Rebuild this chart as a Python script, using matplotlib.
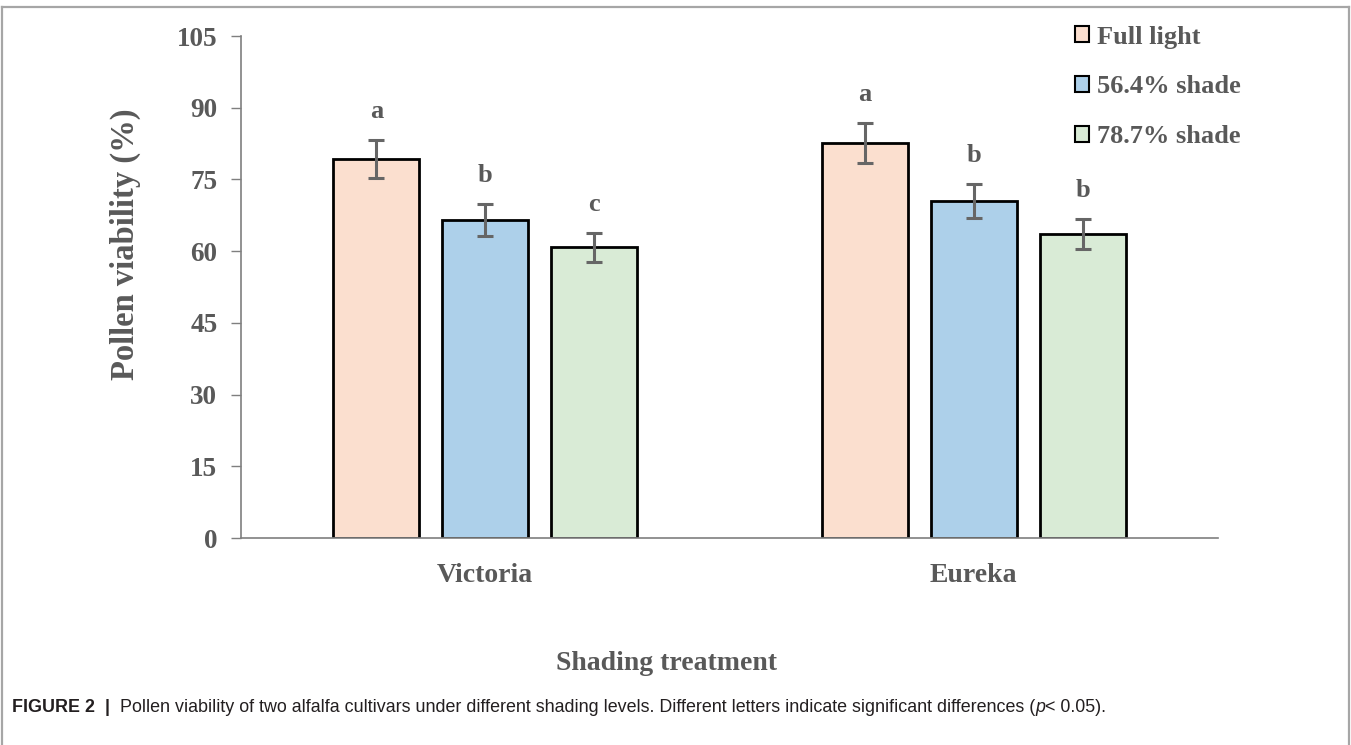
import matplotlib
matplotlib.use("Agg")
import matplotlib.pyplot as plt
import numpy as np
from matplotlib.patches import Patch
from matplotlib.lines import Line2D

# ---- data ----
cultivars = ["Victoria", "Eureka"]
treatments = ["Full light", "56.4% shade", "78.7% shade"]
means = {
    "Full light":  [79.3, 82.6],
    "56.4% shade": [66.5, 70.5],
    "78.7% shade": [60.8, 63.6],
}
errors = {
    "Full light":  [3.95, 4.15],
    "56.4% shade": [3.3, 3.6],
    "78.7% shade": [3.05, 3.15],
}
letters = {
    "Full light":  ["a", "a"],
    "56.4% shade": ["b", "b"],
    "78.7% shade": ["c", "b"],
}
yticks = [0, 15, 30, 45, 60, 75, 90, 105]

colors = {"Full light": "#FBDFCF", "56.4% shade": "#ADD0EA", "78.7% shade": "#D9EBD6"}
txt_gray = "#595959"
serif = "Liberation Serif"

fig = plt.figure(figsize=(13.51, 7.45), dpi=100, facecolor="white")
ax = fig.add_axes([241 / 1351, 1 - 538 / 745, (1218 - 241) / 1351, (538 - 36) / 745])

x = np.arange(len(cultivars))
width = 0.176
step = 0.223
for i, t in enumerate(treatments):
    xs = x + (i - 1) * step
    ax.bar(xs, means[t], width, color=colors[t], edgecolor="black", linewidth=2, zorder=2)
    ax.errorbar(xs, means[t], yerr=errors[t], fmt="none", ecolor="#666666",
                elinewidth=2.2, capsize=6, capthick=2.2, zorder=3)
    for xi, m, e, lab in zip(xs, means[t], errors[t], letters[t]):
        ax.text(xi, m + e + 4.6, lab, ha="center", va="baseline", fontsize=19,
                fontweight="bold", family=serif, color=txt_gray)

ax.set_xlim(-0.5, 1.5)
ax.set_ylim(0, 105)
ax.set_yticks(yticks)
ax.set_yticklabels([str(v) for v in yticks], fontsize=19.5, fontweight="bold",
                   family=serif, color=txt_gray)
ax.tick_params(axis="y", direction="out", length=7, width=1, color="#7f7f7f", pad=10)
ax.set_xticks(x)
ax.set_xticklabels(cultivars, fontsize=20, fontweight="bold", family=serif, color=txt_gray)
ax.tick_params(axis="x", length=0, pad=18)
for s in ["top", "right"]:
    ax.spines[s].set_visible(False)
for s in ["left", "bottom"]:
    ax.spines[s].set_color("#7f7f7f")
    ax.spines[s].set_linewidth(1.2)

fig.text(125 / 1351, 1 - 244 / 745, "Pollen viability (%)", rotation=90, ha="center", va="center",
         fontsize=23.5, fontweight="bold", family=serif, color=txt_gray)
fig.text(666 / 1351, 1 - 663 / 745, "Shading treatment", ha="center", va="center",
         fontsize=20, fontweight="bold", family=serif, color=txt_gray)

handles = [Patch(facecolor=colors[t], edgecolor="black", linewidth=1.5) for t in treatments]
leg = ax.legend(handles, treatments, loc="upper left", bbox_to_anchor=(1064 / 1351, 1 - 15 / 745),
                bbox_transform=fig.transFigure, frameon=False, handlelength=0.55, handleheight=0.55,
                handletextpad=0.3, labelspacing=1.02, borderaxespad=0,
                prop={"family": serif, "weight": "bold", "size": 19})
for tx in leg.get_texts():
    tx.set_color(txt_gray)

# outer frame (open at the bottom)
fc = "#a6a6a6"
fig.add_artist(Line2D([2 / 1351, 2 / 1351], [0, 1 - 7 / 745], color=fc, lw=1.6, transform=fig.transFigure))
fig.add_artist(Line2D([2 / 1351, 1349 / 1351], [1 - 7 / 745, 1 - 7 / 745], color=fc, lw=1.6, transform=fig.transFigure))
fig.add_artist(Line2D([1349 / 1351, 1349 / 1351], [0, 1 - 7 / 745], color=fc, lw=1.6, transform=fig.transFigure))

# caption, built from pieces
renderer = fig.canvas.get_renderer()
pieces = [
    ("FIGURE 2", "bold", "normal"),
    ("  |  ", "bold", "normal"),
    ("Pollen viability of two alfalfa cultivars under different shading levels. "
     "Different letters indicate significant differences (", "normal", "normal"),
    ("p", "normal", "italic"),
    ("< 0.05).", "normal", "normal"),
]
xpos = 12
ycap = 1 - 708 / 745
for s, w, st in pieces:
    t = fig.text(xpos / 1351, ycap, s, ha="left", va="center", fontsize=12.9,
                 family="Liberation Sans", fontweight=w, style=st, color="#231f20")
    bb = t.get_window_extent(renderer)
    xpos += bb.width

fig.savefig("out.png", dpi=100, facecolor="white")
